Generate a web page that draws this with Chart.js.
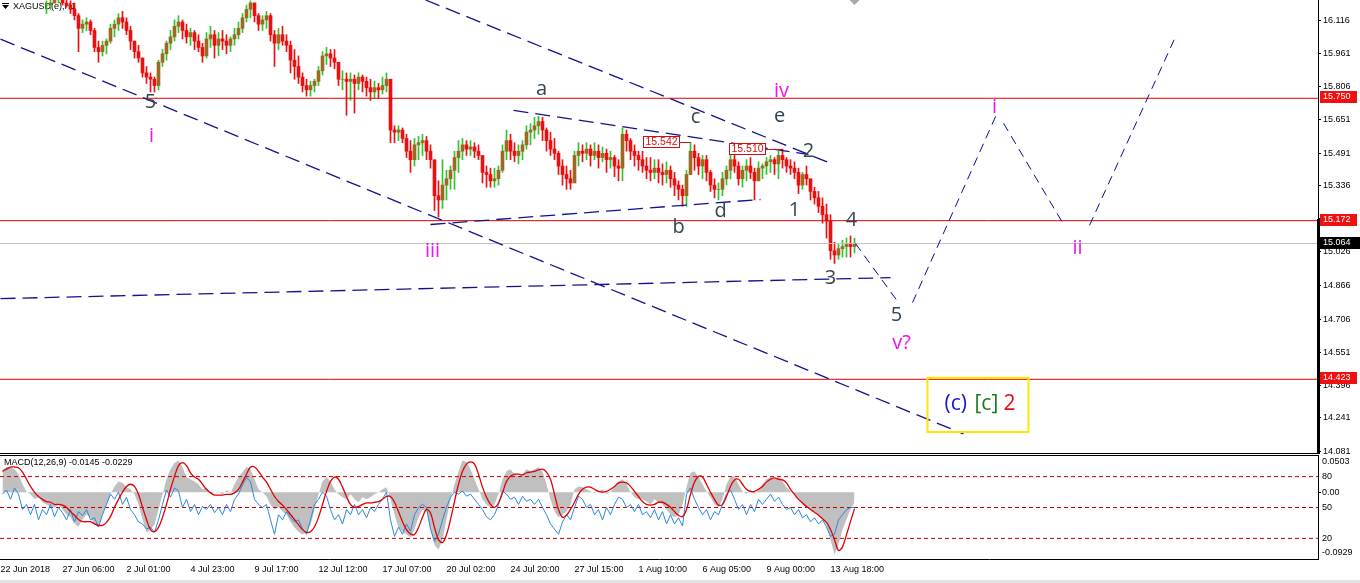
<!DOCTYPE html>
<html>
<head>
<meta charset="utf-8">
<title>XAGUSD H1</title>
<script src="https://cdn.jsdelivr.net/npm/chart.js@4.4.1/dist/chart.umd.min.js"></script>
<style>
  html, body { margin: 0; padding: 0; background: #fff; overflow: hidden; }
  #wrap { position: relative; width: 1360px; height: 583px; background: #fff; overflow: hidden; }
  #priceCanvas { position: absolute; left: 0; top: 0; }
  #macdCanvas { position: absolute; left: 0; top: 455px; }
  #foot { position: absolute; left: 0; top: 580px; width: 1360px; height: 3px; background: #e4e4e4; }
</style>
</head>
<body>
<div id="wrap">
  <canvas id="priceCanvas" width="1360" height="455"></canvas>
  <canvas id="macdCanvas" width="1360" height="128"></canvas>
  <div id="foot"></div>
</div>
<script>
// ---- price data: four-hour candles built from the hourly feed (x = hourly bar number) ----
const SYMBOL_TITLE = 'XAGUSD(e),H1';
const FIRST_BAR = 44;
const BAR_HOURS = 4;

const barHigh = [
  16.21, 16.22, 16.24, 16.25, 16.24, 16.23, 16.21, 16.20, 16.15, 16.12,
  16.13, 16.12, 16.08, 16.02, 16.02, 16.03, 16.10, 16.12, 16.15, 16.16,
  16.13, 16.09, 16.02, 16.00, 15.94, 15.90, 15.87, 15.85, 15.93, 15.98,
  16.02, 16.07, 16.12, 16.14, 16.12, 16.10, 16.08, 16.07, 16.05, 16.01,
  16.06, 16.09, 16.07, 16.06, 16.07, 16.05, 16.04, 16.08, 16.11, 16.15,
  16.19, 16.21, 16.20, 16.15, 16.14, 16.16, 16.15, 16.07, 16.08, 16.09,
  16.05, 16.02, 15.98, 15.95, 15.87, 15.84, 15.83, 15.84, 15.90, 15.97,
  15.99, 15.98, 15.98, 15.92, 15.88, 15.87, 15.87, 15.86, 15.87, 15.86,
  15.85, 15.84, 15.83, 15.82, 15.85, 15.87, 15.84, 15.62, 15.62, 15.61,
  15.58, 15.55, 15.56, 15.57, 15.58, 15.57, 15.53, 15.44, 15.36, 15.46,
  15.41, 15.43, 15.50, 15.55, 15.56, 15.55, 15.55, 15.54, 15.53, 15.46,
  15.43, 15.42, 15.42, 15.43, 15.53, 15.60, 15.58, 15.54, 15.53, 15.55,
  15.62, 15.63, 15.66, 15.665, 15.66, 15.61, 15.59, 15.56, 15.50, 15.46,
  15.43, 15.41, 15.50, 15.54, 15.53, 15.54, 15.53, 15.54, 15.53, 15.52,
  15.51, 15.50, 15.48, 15.46, 15.61, 15.60, 15.56, 15.53, 15.50, 15.50,
  15.47, 15.47, 15.46, 15.46, 15.44, 15.45, 15.43, 15.40, 15.36, 15.34,
  15.41, 15.542, 15.53, 15.49, 15.48, 15.48, 15.41, 15.37, 15.35, 15.40,
  15.43, 15.48, 15.50, 15.45, 15.43, 15.46, 15.47, 15.42, 15.45, 15.44,
  15.47, 15.48, 15.47, 15.50, 15.510, 15.47, 15.46, 15.45, 15.42, 15.40,
  15.43, 15.36, 15.33, 15.31, 15.28, 15.25, 15.20, 15.07, 15.06, 15.08,
  15.09, 15.10, 15.09
];
const barLow = [
  16.15, 16.17, 16.20, 16.20, 16.19, 16.18, 16.15, 16.12, 15.97, 16.06,
  16.07, 16.05, 15.97, 15.92, 15.95, 15.96, 16.01, 16.04, 16.07, 16.08,
  16.05, 15.98, 15.94, 15.92, 15.85, 15.82, 15.78, 15.78, 15.79, 15.90,
  15.93, 15.98, 16.02, 16.06, 16.03, 16.01, 16.00, 15.98, 15.97, 15.92,
  15.94, 15.99, 15.94, 15.95, 15.98, 15.96, 15.97, 16.00, 16.03, 16.06,
  16.11, 16.13, 16.11, 16.07, 16.07, 16.08, 16.02, 15.90, 15.98, 16.00,
  15.97, 15.87, 15.84, 15.82, 15.78, 15.76, 15.76, 15.78, 15.81, 15.86,
  15.91, 15.90, 15.89, 15.81, 15.79, 15.67, 15.74, 15.68, 15.79, 15.78,
  15.76, 15.74, 15.75, 15.75, 15.77, 15.78, 15.54, 15.54, 15.55, 15.54,
  15.47, 15.40, 15.43, 15.46, 15.48, 15.46, 15.42, 15.22, 15.19, 15.23,
  15.27, 15.32, 15.32, 15.40, 15.46, 15.48, 15.48, 15.47, 15.46, 15.35,
  15.33, 15.33, 15.33, 15.34, 15.40, 15.46, 15.46, 15.45, 15.44, 15.46,
  15.51, 15.53, 15.56, 15.58, 15.55, 15.50, 15.48, 15.46, 15.39, 15.34,
  15.32, 15.32, 15.36, 15.43, 15.45, 15.46, 15.43, 15.46, 15.42, 15.45,
  15.40, 15.42, 15.38, 15.36, 15.36, 15.50, 15.46, 15.43, 15.41, 15.40,
  15.37, 15.36, 15.37, 15.35, 15.34, 15.35, 15.33, 15.29, 15.27, 15.24,
  15.24, 15.39, 15.41, 15.39, 15.37, 15.36, 15.31, 15.28, 15.27, 15.29,
  15.34, 15.37, 15.40, 15.34, 15.33, 15.36, 15.37, 15.27, 15.36, 15.37,
  15.39, 15.40, 15.39, 15.37, 15.42, 15.40, 15.39, 15.37, 15.30, 15.32,
  15.34, 15.27, 15.25, 15.21, 15.16, 15.09, 14.99, 14.97, 14.99, 15.00,
  15.00, 15.00, 15.02
];
const barClose = [
  16.19, 16.20, 16.22, 16.23, 16.20, 16.19, 16.17, 16.14, 16.08, 16.10,
  16.11, 16.07, 15.99, 15.97, 16.00, 16.02, 16.08, 16.10, 16.13, 16.11,
  16.07, 16.02, 15.97, 15.94, 15.87, 15.85, 15.84, 15.81, 15.92, 15.96,
  16.01, 16.04, 16.09, 16.11, 16.07, 16.04, 16.06, 16.02, 15.99, 15.95,
  16.03, 16.05, 16.00, 16.03, 16.02, 16.00, 16.03, 16.05, 16.08, 16.13,
  16.17, 16.20, 16.14, 16.10, 16.12, 16.14, 16.05, 16.01, 16.05, 16.02,
  16.00, 15.93, 15.90, 15.85, 15.81, 15.79, 15.81, 15.83, 15.88, 15.95,
  15.96, 15.94, 15.92, 15.84, 15.84, 15.83, 15.84, 15.82, 15.85, 15.83,
  15.80, 15.78, 15.80, 15.79, 15.81, 15.84, 15.60, 15.59, 15.60, 15.56,
  15.50, 15.46, 15.53, 15.54, 15.55, 15.50, 15.46, 15.29, 15.27, 15.34,
  15.37, 15.41, 15.47, 15.50, 15.53, 15.51, 15.52, 15.50, 15.48, 15.40,
  15.39, 15.36, 15.37, 15.41, 15.50, 15.55, 15.50, 15.48, 15.50, 15.53,
  15.59, 15.60, 15.62, 15.64, 15.60, 15.55, 15.51, 15.49, 15.43, 15.39,
  15.37, 15.35, 15.48, 15.50, 15.49, 15.51, 15.48, 15.50, 15.47, 15.49,
  15.46, 15.47, 15.43, 15.42, 15.58, 15.55, 15.50, 15.48, 15.46, 15.43,
  15.41, 15.40, 15.42, 15.40, 15.39, 15.41, 15.37, 15.34, 15.32, 15.29,
  15.39, 15.50, 15.47, 15.43, 15.46, 15.40, 15.34, 15.32, 15.32, 15.37,
  15.41, 15.46, 15.43, 15.37, 15.41, 15.43, 15.40, 15.36, 15.42, 15.43,
  15.45, 15.46, 15.44, 15.48, 15.46, 15.43, 15.42, 15.40, 15.34, 15.39,
  15.37, 15.31, 15.28, 15.24, 15.20, 15.17, 15.03, 15.01, 15.04, 15.05,
  15.06, 15.05, 15.064
];

// ---- indicator window (one value per four hourly bars, from bar 0) ----
const macdHist = [
  0.032, 0.035, 0.035, 0.032, 0.025, 0.011, 0.001, -0.003, -0.010, -0.007,
  -0.014, -0.017, -0.020, -0.021, -0.017, -0.024, -0.031, -0.035, -0.044, -0.048,
  -0.038, -0.031, -0.035, -0.045, -0.049, -0.031, -0.017, -0.003, 0.008, 0.015,
  0.013, 0.007, 0.004, -0.003, -0.017, -0.038, -0.056, -0.052, -0.045, -0.024,
  -0.003, 0.018, 0.032, 0.041, 0.044, 0.035, 0.021, 0.018, 0.015, 0.011,
  0.004, 0.007, -0.001, 0.000, 0.001, -0.003, 0.003, -0.001, 0.011, 0.021,
  0.028, 0.035, 0.032, 0.018, 0.004, 0.000, -0.006, -0.017, -0.024, -0.021,
  -0.027, -0.031, -0.041, -0.049, -0.055, -0.059, -0.056, -0.045, -0.024, -0.003,
  0.015, 0.021, 0.015, 0.004, -0.003, -0.007, -0.010, -0.003, -0.010, -0.014,
  -0.007, -0.010, -0.007, -0.003, 0.000, 0.004, 0.007, -0.010, -0.031, -0.049,
  -0.055, -0.059, -0.063, -0.052, -0.035, -0.024, -0.027, -0.052, -0.073, -0.080,
  -0.066, -0.038, -0.010, 0.011, 0.029, 0.044, 0.042, 0.032, 0.018, 0.004,
  -0.010, -0.017, -0.021, -0.017, -0.003, 0.018, 0.029, 0.032, 0.025, 0.022,
  0.025, 0.032, 0.029, 0.032, 0.035, 0.029, 0.011, -0.010, -0.027, -0.035,
  -0.031, -0.027, -0.017, 0.004, 0.008, 0.007, 0.004, 0.001, -0.001, 0.001,
  0.004, -0.003, 0.001, 0.007, 0.015, 0.018, 0.011, 0.000, -0.007, -0.010,
  -0.010, -0.013, -0.017, -0.010, -0.014, -0.017, -0.024, -0.031, -0.035, -0.031,
  -0.017, 0.007, 0.027, 0.029, 0.021, 0.011, 0.001, -0.007, -0.017, -0.021,
  -0.010, 0.011, 0.021, 0.022, 0.011, 0.001, -0.003, 0.004, -0.003, 0.004,
  0.011, 0.018, 0.021, 0.018, 0.021, 0.015, 0.007, 0.001, -0.003, -0.010,
  -0.017, -0.021, -0.024, -0.027, -0.032, -0.038, -0.045, -0.066, -0.087, -0.073,
  -0.052, -0.038, -0.024, -0.0145
];
const macdSignal = [
  0.029, 0.032, 0.035, 0.035, 0.034, 0.028, 0.018, 0.008, 0.000, -0.006,
  -0.010, -0.013, -0.014, -0.017, -0.017, -0.018, -0.021, -0.027, -0.032, -0.038,
  -0.041, -0.041, -0.041, -0.044, -0.046, -0.046, -0.042, -0.034, -0.021, -0.010,
  0.000, 0.008, 0.011, 0.008, -0.003, -0.021, -0.038, -0.052, -0.055, -0.049,
  -0.035, -0.017, 0.004, 0.022, 0.037, 0.041, 0.037, 0.027, 0.021, 0.018,
  0.011, 0.004, -0.001, -0.004, -0.004, -0.004, -0.003, -0.003, -0.001, 0.004,
  0.014, 0.025, 0.035, 0.035, 0.029, 0.021, 0.014, 0.004, -0.006, -0.013,
  -0.018, -0.024, -0.031, -0.038, -0.045, -0.052, -0.056, -0.055, -0.048, -0.035,
  -0.017, 0.001, 0.015, 0.021, 0.018, 0.007, -0.006, -0.017, -0.021, -0.020,
  -0.017, -0.015, -0.015, -0.014, -0.013, -0.010, -0.006, -0.006, -0.014, -0.027,
  -0.041, -0.052, -0.058, -0.059, -0.049, -0.035, -0.024, -0.029, -0.049, -0.066,
  -0.070, -0.059, -0.038, -0.013, 0.011, 0.029, 0.039, 0.042, 0.039, 0.025,
  0.007, -0.007, -0.017, -0.021, -0.015, -0.001, 0.015, 0.022, 0.025, 0.025,
  0.024, 0.027, 0.028, 0.029, 0.031, 0.032, 0.028, 0.018, -0.003, -0.024,
  -0.035, -0.032, -0.024, -0.014, -0.003, 0.004, 0.007, 0.007, 0.004, 0.001,
  0.000, 0.001, 0.004, 0.008, 0.013, 0.014, 0.013, 0.008, 0.001, -0.006,
  -0.013, -0.017, -0.018, -0.017, -0.014, -0.014, -0.017, -0.021, -0.027, -0.032,
  -0.034, -0.024, -0.003, 0.014, 0.022, 0.021, 0.011, 0.000, -0.010, -0.018,
  -0.017, -0.006, 0.008, 0.017, 0.018, 0.011, 0.004, 0.001, 0.001, 0.004,
  0.008, 0.014, 0.018, 0.020, 0.018, 0.017, 0.013, 0.004, -0.003, -0.010,
  -0.015, -0.020, -0.024, -0.028, -0.032, -0.037, -0.042, -0.052, -0.066, -0.081,
  -0.076, -0.059, -0.041, -0.0229
];
const oscLine = [
  63, 67, 58, 69, 63, 48, 53, 43, 53, 38,
  48, 43, 53, 41, 50, 45, 38, 48, 36, 46,
  42, 48, 38, 40, 31, 43, 53, 63, 58, 65,
  53, 60, 48, 43, 36, 34, 29, 31, 26, 38,
  53, 67, 60, 69, 66, 50, 58, 46, 53, 43,
  51, 48, 53, 45, 50, 43, 53, 46, 58, 63,
  72, 79, 75, 58, 53, 50, 53, 38, 24, 43,
  38, 46, 40, 36, 38, 29, 24, 38, 53, 58,
  65, 61, 48, 38, 43, 34, 48, 43, 53, 43,
  48, 40, 50, 46, 53, 58, 65, 38, 22, 31,
  24, 34, 27, 43, 50, 53, 50, 29, 17, 24,
  38, 50, 60, 65, 63, 66, 61, 63, 58, 53,
  48, 41, 38, 43, 53, 66, 63, 58, 60, 53,
  61, 56, 58, 53, 58, 50, 43, 34, 29, 24,
  36, 43, 38, 50, 61, 58, 50, 53, 43, 48,
  38, 50, 43, 53, 60, 58, 50, 53, 46, 53,
  43, 46, 40, 48, 38, 46, 34, 43, 34, 40,
  32, 63, 69, 58, 50, 43, 48, 38, 46, 43,
  53, 63, 67, 58, 48, 53, 43, 53, 46, 58,
  53, 58, 63, 56, 60, 53, 48, 50, 43, 48,
  40, 43, 36, 40, 34, 38, 31, 22, 24, 38,
  43, 48, 50, 50
];
const OSC_LEVELS = [80, 50, 20];

// ---- axes ----
const PRICE_MIN = 14.075, PRICE_MAX = 16.214;
const MACD_MIN = -0.0929, MACD_MAX = 0.0503;
const priceTicks = [16.116, 15.961, 15.806, 15.651, 15.491, 15.336, 15.181,
                    15.026, 14.866, 14.706, 14.551, 14.396, 14.241, 14.081];
const macdAxisTicks = [0.0503, 0, -0.0929];
const timeTickBars = [0, 62, 126, 190, 254, 318, 382, 446, 510, 574, 638, 702, 766, 830];
const timeTickLabels = ['22 Jun 2018', '27 Jun 06:00', '2 Jul 01:00', '4 Jul 23:00', '9 Jul 17:00',
                        '12 Jul 12:00', '17 Jul 07:00', '20 Jul 02:00', '24 Jul 20:00', '27 Jul 15:00',
                        '1 Aug 10:00', '6 Aug 05:00', '9 Aug 00:00', '13 Aug 18:00'];
const LAST_BAR = 1317.5;

// ---- chart objects (bar number, price) ----
const keyLevels = [15.750, 15.172, 14.423];
const lastPrice = 15.064;
const axisMarkFrom = 15.18;
// trendlines: [startBar, startPrice, endBar, endPrice]
const trendLines = [
  [0, 16.029, 963, 14.165],
  [425, 16.214, 830, 15.443],
  [513, 15.693, 808, 15.485],
  [430, 15.154, 760, 15.272],
  [0, 14.804, 890, 14.903]
];
const projectedPath = [
  [855, 15.064, 898, 14.785],
  [912, 14.785, 997, 15.684],
  [1003, 15.632, 1062, 15.163],
  [1089, 15.150, 1174, 16.030]
];
// wave count labels: [text, bar, price at baseline]
const minorWaves = [
  ['5', 150, 15.703], ['a', 541, 15.764], ['c', 695, 15.632], ['e', 779, 15.637],
  ['2', 808, 15.471], ['1', 794, 15.196], ['d', 720, 15.187], ['b', 678, 15.116],
  ['4', 851, 15.149], ['3', 830, 14.875], ['5', 896, 14.699]
];
const minuetteWaves = [
  ['i', 151, 15.542], ['iii', 432, 15.002], ['iv', 781, 15.755],
  ['v?', 901, 14.567], ['i', 994, 15.679], ['ii', 1077, 15.017]
];
// swing-high price tags: [tag right edge bar, swing bar, price]
const swingTags = [[679, 690, 15.542], [765, 782, 15.510]];
// degree box: [leftBar, topPrice, rightBar, bottomPrice, baselinePrice]
const degreeBox = [927, 14.430, 1028, 14.174, 14.278];

// ---- styles ----
const BAR_UP = '#2fc42f', BAR_DOWN = '#ee1010';
const BODY_UP = '#9a6a22', BODY_DOWN = '#e81010';
const NAVY = '#12128e';
const AXIS_FONT = { family: 'Liberation Sans', size: 9 };

function buildCharts() {
  const candleBars = barClose.map((_, k) => FIRST_BAR + k * BAR_HOURS + BAR_HOURS / 2);
  const barOpen = barClose.map((c, k) => (k === 0 ? c : barClose[k - 1]));
  const rising = barClose.map((c, k) => c >= barOpen[k]);

  const segment = (s) => [{ x: s[0], y: s[1] }, { x: s[2], y: s[3] }];
  const lineSet = (data, color, width, dash, order) => ({
    type: 'line', data, borderColor: color, borderWidth: width, borderDash: dash || [],
    pointRadius: 0, fill: false, tension: 0, order
  });

  const datasets = [];
  datasets.push({
    type: 'bar', data: candleBars.map((h, k) => ({ x: h, y: [barOpen[k], barClose[k]] })),
    backgroundColor: rising.map(u => (u ? BODY_UP : BODY_DOWN)), barThickness: 3, grouped: false, order: 9
  });
  datasets.push({
    type: 'bar', data: candleBars.map((h, k) => ({ x: h, y: [barLow[k], barHigh[k]] })),
    backgroundColor: rising.map(u => (u ? BAR_UP : BAR_DOWN)), barThickness: 1, grouped: false, order: 10
  });
  keyLevels.forEach(v => datasets.push(lineSet([{ x: -0.5, y: v }, { x: LAST_BAR, y: v }], '#e00000', 1, null, 6)));
  datasets.push(lineSet([{ x: -0.5, y: lastPrice }, { x: LAST_BAR, y: lastPrice }], '#c0c0c0', 1, null, 7));
  trendLines.forEach(t => datasets.push(lineSet(segment(t), NAVY, 1.3, [15, 7], 4)));
  projectedPath.forEach(t => datasets.push(lineSet(segment(t), '#0a0a90', 1, [9, 6], 3)));

  const priceDecor = {
    id: 'priceDecor',
    beforeDatasetsDraw(chart) {
      const ctx = chart.ctx;
      ctx.save();
      ctx.fillStyle = '#000';
      ctx.fillRect(2, 3, 7, 1);
      ctx.beginPath(); ctx.moveTo(2, 5); ctx.lineTo(9, 5); ctx.lineTo(5.5, 9); ctx.closePath(); ctx.fill();
      ctx.font = '9px "Liberation Sans"';
      ctx.textBaseline = 'middle'; ctx.textAlign = 'left';
      ctx.fillText(SYMBOL_TITLE, 13, 7);
      ctx.restore();
    },
    afterDatasetsDraw(chart) {
      const { ctx, scales: { x, y } } = chart;
      ctx.save();
      // wave counts
      ctx.font = '20px "Open Sans"';
      ctx.textAlign = 'center'; ctx.textBaseline = 'alphabetic';
      ctx.fillStyle = '#34444e';
      minorWaves.forEach(([t, b, p]) => ctx.fillText(t, x.getPixelForValue(b), y.getPixelForValue(p)));
      ctx.fillStyle = '#ee12ee';
      minuetteWaves.forEach(([t, b, p]) => ctx.fillText(t, x.getPixelForValue(b), y.getPixelForValue(p)));
      // swing-high price tags
      ctx.font = '10.5px "Liberation Sans"';
      ctx.textBaseline = 'middle';
      swingTags.forEach(([edge, bar, p]) => {
        const r = Math.round(x.getPixelForValue(edge));
        const cy = Math.round(y.getPixelForValue(p));
        const w = 37;
        ctx.fillStyle = '#fff';
        ctx.fillRect(r - w, cy - 6, w, 12);
        ctx.strokeStyle = '#d01010'; ctx.lineWidth = 1;
        ctx.strokeRect(r - w + 0.5, cy - 5.5, w - 1, 11);
        ctx.beginPath(); ctx.moveTo(r, cy + 0.5); ctx.lineTo(x.getPixelForValue(bar), cy + 0.5); ctx.stroke();
        ctx.fillStyle = '#d01010';
        ctx.fillText(p.toFixed(3), r - w / 2, cy + 0.5);
      });
      // degree box
      const [b0, p0, b1, p1, pb] = degreeBox;
      const L = x.getPixelForValue(b0), T = y.getPixelForValue(p0);
      const R = x.getPixelForValue(b1), B = y.getPixelForValue(p1);
      ctx.strokeStyle = '#ffe600'; ctx.lineWidth = 2;
      ctx.strokeRect(L, T, R - L, B - T);
      ctx.font = '21px "Open Sans"';
      ctx.textAlign = 'left'; ctx.textBaseline = 'alphabetic';
      const base = y.getPixelForValue(pb);
      ctx.fillStyle = '#1818c8'; ctx.fillText('(c)', L + 17, base);
      ctx.fillStyle = '#1c7a1c'; ctx.fillText('[c]', L + 47, base);
      ctx.fillStyle = '#e01010'; ctx.fillText('2', L + 76, base);
      ctx.restore();
    },
    afterDraw(chart) {
      const { ctx, chartArea: a, scales: { x, y } } = chart;
      ctx.save();
      ctx.fillStyle = '#000';
      ctx.fillRect(0, a.bottom, a.right, 1);
      const mTop = Math.round(y.getPixelForValue(axisMarkFrom));
      ctx.fillRect(a.right - 1, mTop, 3, a.bottom + 1 - mTop);
      // chart shift marker above the last bar
      const sx = x.getPixelForValue(candleBars[candleBars.length - 1]);
      ctx.fillStyle = '#a8a8a8';
      ctx.beginPath(); ctx.moveTo(sx - 5, 0); ctx.lineTo(sx + 5, 0); ctx.lineTo(sx, 5); ctx.closePath(); ctx.fill();
      // price tags on the axis
      ctx.font = '9px "Liberation Sans"';
      ctx.textBaseline = 'middle'; ctx.textAlign = 'left';
      const tag = (v, bg, w) => {
        const cy = Math.round(y.getPixelForValue(v));
        ctx.fillStyle = bg; ctx.fillRect(a.right + 2, cy - 7, w, 12);
        ctx.fillStyle = '#fff'; ctx.fillText(v.toFixed(3), a.right + 5, cy - 1);
      };
      keyLevels.forEach(v => tag(v, '#f01010', 37));
      tag(lastPrice, '#000', 40);
      ctx.restore();
    }
  };

  new Chart(document.getElementById('priceCanvas'), {
    type: 'bar',
    data: { datasets },
    options: {
      responsive: false, animation: false, events: [],
      layout: { padding: { top: 0, right: 0, bottom: 2, left: 0 } },
      plugins: { legend: { display: false }, tooltip: { enabled: false } },
      scales: {
        x: { type: 'linear', min: -0.5, max: LAST_BAR, offset: false, display: false, bounds: 'data' },
        y: {
          type: 'linear', position: 'right', min: PRICE_MIN, max: PRICE_MAX, bounds: 'data',
          afterBuildTicks: s => { s.ticks = priceTicks.map(v => ({ value: v })); },
          afterFit: s => { s.width = 42; s.paddingTop = 0; s.paddingBottom = 0; },
          ticks: { autoSkip: false, padding: 2, color: '#000', font: AXIS_FONT, callback: v => Number(v).toFixed(3) },
          grid: { drawOnChartArea: false, drawTicks: true, tickLength: 3, color: '#000' },
          border: { display: true, color: '#000', width: 1 }
        }
      }
    },
    plugins: [priceDecor]
  });

  // ---- indicator window ----
  const macdBars = macdHist.map((_, m) => m * BAR_HOURS + BAR_HOURS / 2);
  const pts = arr => arr.map((v, m) => ({ x: macdBars[m], y: v }));
  const fmt = v => (v === 0 ? '0.00' : v.toFixed(4));

  const macdDatasets = [
    { data: pts(macdSignal), yAxisID: 'y', borderColor: '#e00000', borderWidth: 1.3, pointRadius: 0, tension: 0.35, fill: false, order: 1 },
    { data: pts(oscLine), yAxisID: 'yOsc', borderColor: '#2a88e0', borderWidth: 1, pointRadius: 0, tension: 0, fill: false, order: 2 },
    ...OSC_LEVELS.map(v => ({ data: [{ x: -0.5, y: v }, { x: LAST_BAR, y: v }], yAxisID: 'yOsc', borderColor: '#c40000', borderWidth: 1, borderDash: [4, 3], pointRadius: 0, fill: false, order: 3 })),
    { data: pts(macdHist), yAxisID: 'y', borderWidth: 0, borderColor: 'rgba(0,0,0,0)', backgroundColor: '#c0c0c0', pointRadius: 0, tension: 0, fill: 'origin', order: 5 }
  ];

  const macdDecor = {
    id: 'macdDecor',
    afterDraw(chart) {
      const { ctx, chartArea: a, scales } = chart;
      ctx.save();
      ctx.fillStyle = '#000';
      ctx.fillRect(0, a.top - 1, a.right + 1, 1);
      ctx.fillRect(a.right, a.top - 1, 1, a.bottom - a.top + 2);
      ctx.font = '9px "Liberation Sans"';
      ctx.textBaseline = 'middle'; ctx.textAlign = 'left';
      ctx.fillText('MACD(12,26,9) ' + fmt(macdHist[macdHist.length - 1]) + ' ' + fmt(macdSignal[macdSignal.length - 1]), 4, a.top + 7);
      const put = (txt, py) => {
        const yy = Math.min(Math.max(py, a.top + 6), a.bottom - 6);
        ctx.fillText(txt, a.right + 4, yy);
      };
      macdAxisTicks.forEach(v => put(fmt(v), scales.y.getPixelForValue(v)));
      OSC_LEVELS.forEach(v => put(String(v), scales.yOsc.getPixelForValue(v)));
      ctx.fillRect(a.right + 1, Math.round(scales.y.getPixelForValue(0)), 2, 1);
      ctx.restore();
    }
  };

  new Chart(document.getElementById('macdCanvas'), {
    type: 'line',
    data: { datasets: macdDatasets },
    options: {
      responsive: false, animation: false, events: [],
      layout: { padding: { top: 1, right: 42, bottom: 0, left: 0 } },
      plugins: { legend: { display: false }, tooltip: { enabled: false } },
      scales: {
        x: {
          type: 'linear', min: -0.5, max: LAST_BAR, offset: false, bounds: 'data',
          afterBuildTicks: s => { s.ticks = timeTickBars.map(v => ({ value: v })); },
          afterFit: s => { s.height = 24; s.paddingLeft = 0; s.paddingRight = 0; },
          ticks: { autoSkip: false, maxRotation: 0, minRotation: 0, align: 'start', padding: 5, color: '#000', font: AXIS_FONT,
                   callback: (v, i) => timeTickLabels[i] },
          grid: { display: false, drawTicks: false },
          border: { display: true, color: '#000', width: 1 }
        },
        y: { type: 'linear', display: false, min: MACD_MIN, max: MACD_MAX },
        yOsc: { type: 'linear', display: false, min: 0, max: 100 }
      }
    },
    plugins: [macdDecor]
  });
}

const fontsReady = document.fonts && document.fonts.load
  ? Promise.all([document.fonts.load('20px "Open Sans"'), document.fonts.load('9px "Liberation Sans"')]).catch(() => null)
  : Promise.resolve();
fontsReady.then(buildCharts);
</script>
</body>
</html>
